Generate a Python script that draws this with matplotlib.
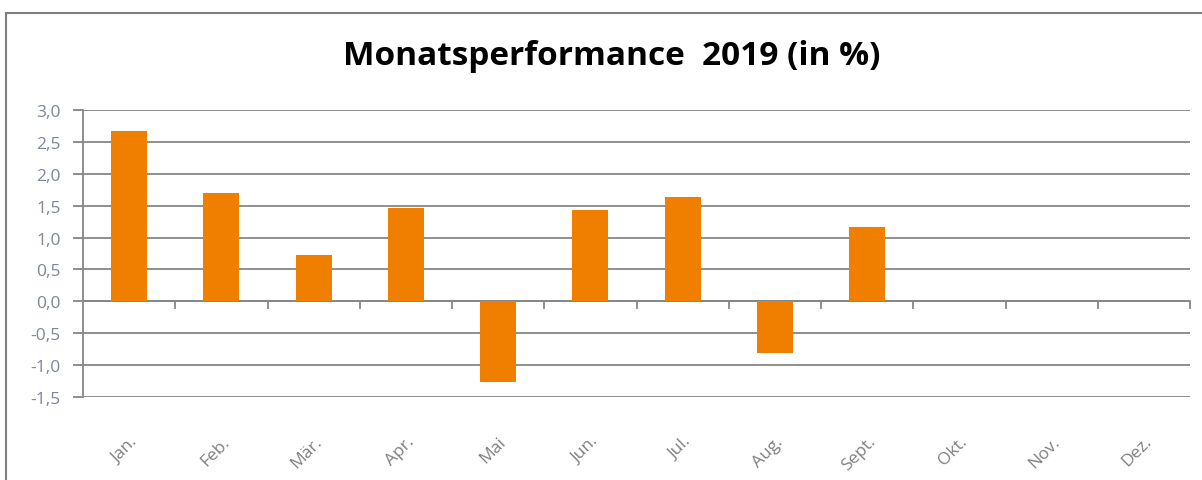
import matplotlib
matplotlib.use("Agg")
import matplotlib.pyplot as plt
from matplotlib.lines import Line2D

months = ["Jan.", "Feb.", "Mär.", "Apr.", "Mai", "Jun.", "Jul.", "Aug.", "Sept.", "Okt.", "Nov.", "Dez."]
values = [2.67, 1.70, 0.73, 1.47, -1.27, 1.43, 1.64, -0.81, 1.17, None, None, None]
yticks = [-1.5, -1.0, -0.5, 0.0, 0.5, 1.0, 1.5, 2.0, 2.5, 3.0]
title = "Monatsperformance  2019 (in %)"

W, H = 1202, 481
fig = plt.figure(figsize=(W / 100, H / 100), dpi=100)
fig.patch.set_facecolor("white")

# outer chart frame (top and left visible)
fig.add_artist(Line2D([6 / W, 1.0], [1 - 14 / H, 1 - 14 / H], color="#7f7f7f", lw=1.5, transform=fig.transFigure))
fig.add_artist(Line2D([6 / W, 6 / W], [0, 1 - 14 / H], color="#7f7f7f", lw=1.5, transform=fig.transFigure))

ax = fig.add_axes([83 / W, 1 - 398 / H, (1190 - 83) / W, (398 - 111) / H])
x = list(range(len(months)))
xs = [i for i, v in zip(x, values) if v is not None]
vs = [v for v in values if v is not None]
ax.bar(xs, vs, width=0.39, color="#f07f00", zorder=3)

ax.set_xlim(-0.5, len(months) - 0.5)
ax.set_ylim(-1.5, 3.0)
ax.set_yticks(yticks)
ax.set_yticklabels([f"{t:.1f}".replace(".", ",") for t in yticks], color="#7d8798", fontsize=12.5, fontfamily="Open Sans")
ax.yaxis.grid(True, color="#868686", lw=1.3, zorder=0)
ax.tick_params(axis="y", length=7, color="#868686", width=1.3, pad=9)

for s in ["top", "right", "bottom"]:
    ax.spines[s].set_visible(False)
ax.spines["left"].set_color("#868686")
ax.spines["left"].set_linewidth(1.3)

# x axis at zero with boundary ticks
ax.axhline(0, color="#868686", lw=1.3, zorder=2)
for b in range(1, len(months) + 1):
    ax.plot([b - 0.5, b - 0.5], [0, -0.1], color="#868686", lw=1.3, zorder=2, clip_on=False)

ax.set_xticks(x)
ax.set_xticklabels(months, rotation=45, ha="right", rotation_mode="anchor", color="#808080", fontsize=12.5, fontfamily="Open Sans")
ax.tick_params(axis="x", length=0, pad=26)

fig.text(612 / W, 1 - 57 / H, title, ha="center", va="center", fontsize=24, fontweight="bold", fontfamily="Open Sans", color="black")

fig.savefig("out.png", dpi=100, facecolor="white")
